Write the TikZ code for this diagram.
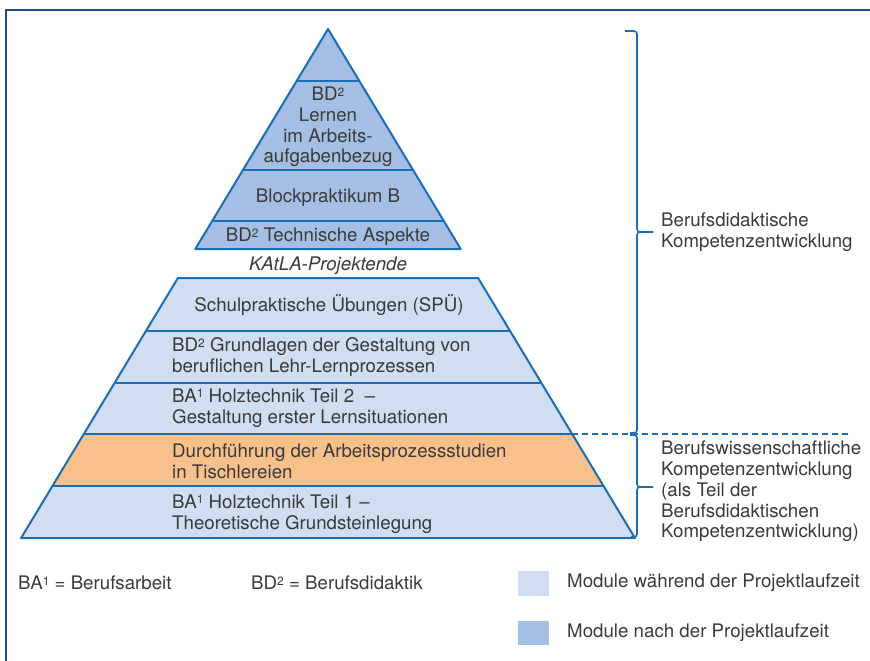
\documentclass[tikz,border=0pt]{standalone}
\usepackage{fontspec}
\setmainfont{TeX Gyre Heros}
\usetikzlibrary{calc}
\definecolor{frameblue}{HTML}{1F4E7E}
\definecolor{strokeblue}{HTML}{1B6DB4}
\definecolor{darkfill}{HTML}{A4BEE4}
\definecolor{lightfill}{HTML}{D1DDF0}
\definecolor{orangefill}{HTML}{F8C08A}
\definecolor{txt}{HTML}{3A3A3A}
\newcommand{\supx}[1]{\raisebox{4.6pt}{\fontsize{12}{12}\selectfont #1}}
\tikzset{
  lbl/.style={inner sep=0pt, text=txt, font=\fontsize{18.7}{20.7}\selectfont},
  lblc/.style={lbl, align=center},
  lbll/.style={lbl, align=left, anchor=west},
  bandline/.style={draw=strokeblue, line width=2pt},
  outline/.style={draw=strokeblue, line width=2pt, line join=round},
  bracket/.style={draw=strokeblue, line width=1.6pt, rounded corners=3pt},
}
\begin{document}
\begin{tikzpicture}[x=1pt,y=-1pt]
\useasboundingbox (0,0) rectangle (870,661);
% frame
\draw[frameblue, line width=2pt] (6,661) -- (6,10.5) -- (870,10.5);

% upper pyramid bands
\fill[darkfill] (328,29) -- (359.4,81) -- (296.6,81) -- cycle;
\fill[darkfill] (296.6,81) -- (359.4,81) -- (413.0,170) -- (243.0,170) -- cycle;
\fill[darkfill] (243.0,170) -- (413.0,170) -- (443.8,221) -- (212.2,221) -- cycle;
\fill[darkfill] (212.2,221) -- (443.8,221) -- (460.7,249) -- (195.3,249) -- cycle;
\draw[bandline] (296.6,81) -- (359.4,81);
\draw[bandline] (243.0,170) -- (413.0,170);
\draw[bandline] (212.2,221) -- (443.8,221);
\draw[outline] (328,29) -- (460.7,249) -- (195.3,249) -- cycle;

% lower pyramid bands
\fill[lightfill] (177.9,278) -- (478.1,278) -- (510.1,331) -- (145.9,331) -- cycle;
\fill[lightfill] (145.9,331) -- (510.1,331) -- (541.5,383) -- (114.5,383) -- cycle;
\fill[lightfill] (114.5,383) -- (541.5,383) -- (572.2,434) -- (83.8,434) -- cycle;
\fill[orangefill] (83.8,434) -- (572.2,434) -- (603.6,486) -- (52.4,486) -- cycle;
\fill[lightfill] (52.4,486) -- (603.6,486) -- (634.9,538) -- (21.1,538) -- cycle;
\draw[bandline] (145.9,331) -- (510.1,331);
\draw[bandline] (114.5,383) -- (541.5,383);
\draw[bandline] (83.8,434) -- (572.2,434);
\draw[bandline] (52.4,486) -- (603.6,486);
\draw[outline] (177.9,278) -- (478.1,278) -- (634.9,538) -- (21.1,538) -- cycle;

% dashed separator
\coordinate (dashA) at (572.2,434);
\coordinate (dashB) at (850,434);
\draw[strokeblue, line width=1.3pt, dash pattern=on 6pt off 4pt] (dashA) -- (dashB);

% brackets
\draw[bracket] (625,31) -- (637,31) -- (637,232) -- (653,232);
\draw[bracket] (653,232) -- (637,232) -- (637,433) -- (630,433);
\draw[bracket] (630,435) -- (637,435) -- (637,487) -- (653,487);
\draw[bracket] (653,487) -- (637,487) -- (637,537) -- (631,537);

% upper pyramid texts
\node[lblc] (t1) at (328,127) {BD\supx{2}\\Lernen\\im Arbeits-\\aufgabenbezug};
\node[lblc] (t2) at (328,198) {Blockpraktikum B};
\node[lblc] (t3) at (328,237) {BD\supx{2} Technische Aspekte};
\node[lblc, font=\fontsize{18.7}{20.7}\selectfont\itshape] (t4) at (328,266) {KAtLA-Projektende};

% lower pyramid texts
\node[lblc] (l1) at (329,305) {Schulpraktische Übungen (SPÜ)};
\node[lbll] (l2) at (172,357) {BD\supx{2} Grundlagen der Gestaltung von\\beruflichen Lehr-Lernprozessen};
\node[lbll] (l3) at (172,408) {BA\supx{1} Holztechnik Teil 2\ \ –\\Gestaltung erster Lernsituationen};
\node[lbll] (l4) at (172,461.5) {Durchführung der Arbeitsprozessstudien\\in Tischlereien};
\node[lbll] (l5) at (172,514) {BA\supx{1} Holztechnik Teil 1 –\\Theoretische Grundsteinlegung};

% right labels
\node[lbll] (r1) at (661,232.5) {Berufsdidaktische\\Kompetenzentwicklung};
\node[lbll] (r2) at (661,491.5) {Berufswissenschaftliche\\Kompetenzentwicklung\\(als Teil der\\Berufsdidaktischen\\Kompetenzentwicklung)};

% legend
\node[lbll] (g1) at (18,583) {BA\supx{1} = Berufsarbeit};
\node[lbll] (g2) at (251,583) {BD\supx{2} = Berufsdidaktik};
\fill[lightfill] (518,571) rectangle (549,596);
\fill[darkfill] (518,621) rectangle (549,645);
\node[lbll] (g3) at (567,583) {Module während der Projektlaufzeit};
\node[lbll] (g4) at (567,633) {Module nach der Projektlaufzeit};
\end{tikzpicture}
\end{document}
